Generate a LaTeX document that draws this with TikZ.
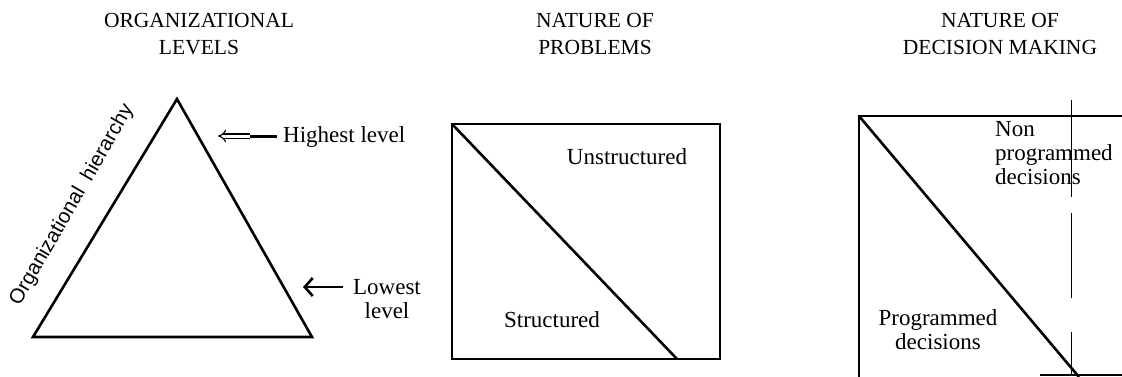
\documentclass[tikz,border=0pt]{standalone}
\usepackage{fontspec}
\setmainfont{Liberation Serif}
\setsansfont{Liberation Sans}
\usetikzlibrary{arrows.meta}
\begin{document}
\begin{tikzpicture}[x=1pt,y=-1pt,
  title/.style={align=center,inner sep=0pt,font=\fontsize{21.5}{27}\selectfont},
  lbl/.style={inner sep=0pt,font=\fontsize{23}{24}\selectfont},
  heavy/.style={line width=2.6pt,line join=miter},
  thin/.style={line width=0.8pt}]
\useasboundingbox (0,0) rectangle (1122,376);
% titles
\node[title] (t1) at (199,34) {ORGANIZATIONAL\\LEVELS};
\node[title] (t2) at (595,34) {NATURE OF\\PROBLEMS};
\node[title] (t3) at (1000,34) {NATURE OF\\DECISION MAKING};
% triangle
\coordinate (apex) at (177,99);
\coordinate (bl) at (33,337);
\coordinate (br) at (312,337);
\draw[heavy] (apex) -- (br) -- (bl) -- cycle;
\node[inner sep=0pt,rotate=60,font=\sffamily\fontsize{20.5}{22}\selectfont] (hier) at (72,205) {Organizational\ \ hierarchy};
\node[lbl,anchor=west] (high) at (283,137) {Highest level};
\coordinate (hightail) at (277,136);
\coordinate (hightip) at (218,136);
\draw[line width=3pt] (hightail) -- (242,136);
\draw[double,double distance=3pt,line width=1.1pt,{Implies[length=12pt]}-] (hightip) -- (250,136);
\node[lbl,align=center] (low) at (387,299) {Lowest\\level};
\coordinate (lowtail) at (343,287);
\coordinate (lowtip) at (303,287);
\draw[line width=2.6pt,-{Straight Barb[length=8pt,width=18pt]}] (lowtail) -- (lowtip);
% box 2
\coordinate (b2tl) at (452,124);
\coordinate (b2br) at (720,359);
\coordinate (b2d) at (677,359);
\draw[heavy] (b2tl) rectangle (b2br);
\draw[heavy] (b2tl) -- (b2d);
\node[lbl] (uns) at (627,157) {Unstructured};
\node[lbl] (str) at (552,320) {Structured};
% box 3
\coordinate (b3tl) at (859,116);
\coordinate (b3bl) at (859,377);
\coordinate (b3tr) at (1123,116);
\coordinate (b3d) at (1079,377);
\draw[heavy] (b3bl) -- (b3tl) -- (b3tr);
\draw[heavy] (b3tl) -- (b3d);
\draw[line width=2pt] (1040,374.5) -- (1123,374.5);
\draw[thin] (1071,100) -- (1071,197);
\draw[thin] (1071,213) -- (1071,298);
\draw[thin] (1071,332) -- (1071,376);
\node[lbl,align=left,anchor=north west] (non) at (995,121) {Non\\programmed\\decisions};
\node[lbl,align=center] (prog) at (938,330) {Programmed\\decisions};
\end{tikzpicture}
\end{document}
